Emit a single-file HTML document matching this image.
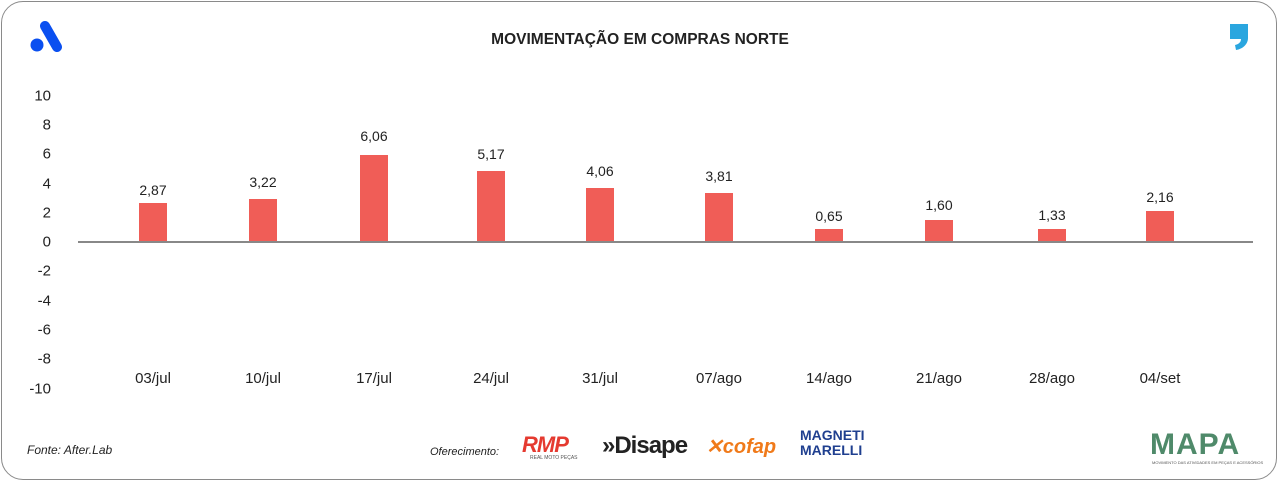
<!DOCTYPE html>
<html><head><meta charset="utf-8"><style>
body{margin:0;width:1280px;height:483px;background:#fff;font-family:"Liberation Sans",sans-serif;position:relative;overflow:hidden}
.frame{position:absolute;left:1px;top:1px;width:1276px;height:479px;border:1.5px solid #8a8a8a;border-radius:22px;box-sizing:border-box}
.t{position:absolute;color:#222;font-size:15px;white-space:nowrap}
.yl{position:absolute;right:1229px;font-size:15px;color:#222;transform:translateY(-50%)}
.bar{position:absolute;width:28px;background:#f05d57}
.v{position:absolute;width:80px;text-align:center;font-size:14px;color:#222}
.x{position:absolute;width:100px;text-align:center;font-size:15px;color:#222;top:370px}
</style></head><body>
<div class="frame"></div>
<svg style="position:absolute;left:28px;top:20px" width="36" height="34"><line x1="17" y1="6" x2="29" y2="27" stroke="#0a4ff0" stroke-width="10" stroke-linecap="round"/><circle cx="9" cy="25" r="6.5" fill="#0a4ff0"/></svg>
<svg style="position:absolute;left:1228px;top:22px" width="24" height="30"><path d="M2 2h18v14c0 6-5 11-12 12l-1-5c4-1 6-3 6-6H2z" fill="#2aa6df"/></svg>
<div class="t" style="left:0;width:1280px;text-align:center;top:31px;font-weight:bold;font-size:15.5px">MOVIMENTAÇÃO EM COMPRAS NORTE</div>
<div class="yl" style="top:96px">10</div><div class="yl" style="top:125px">8</div><div class="yl" style="top:154px">6</div><div class="yl" style="top:184px">4</div><div class="yl" style="top:213px">2</div><div class="yl" style="top:242px">0</div><div class="yl" style="top:271px">-2</div><div class="yl" style="top:301px">-4</div><div class="yl" style="top:330px">-6</div><div class="yl" style="top:359px">-8</div><div class="yl" style="top:389px">-10</div>
<div style="position:absolute;left:78px;top:241px;width:1175px;height:2px;background:#888"></div>
<div class="bar" style="left:139px;top:203px;height:38px"></div><div class="v" style="left:113px;top:182px">2,87</div><div class="x" style="left:103px">03/jul</div>
<div class="bar" style="left:249px;top:199px;height:42px"></div><div class="v" style="left:223px;top:174px">3,22</div><div class="x" style="left:213px">10/jul</div>
<div class="bar" style="left:360px;top:155px;height:86px"></div><div class="v" style="left:334px;top:128px">6,06</div><div class="x" style="left:324px">17/jul</div>
<div class="bar" style="left:477px;top:171px;height:70px"></div><div class="v" style="left:451px;top:146px">5,17</div><div class="x" style="left:441px">24/jul</div>
<div class="bar" style="left:586px;top:188px;height:53px"></div><div class="v" style="left:560px;top:163px">4,06</div><div class="x" style="left:550px">31/jul</div>
<div class="bar" style="left:705px;top:193px;height:48px"></div><div class="v" style="left:679px;top:168px">3,81</div><div class="x" style="left:669px">07/ago</div>
<div class="bar" style="left:815px;top:229px;height:12px"></div><div class="v" style="left:789px;top:208px">0,65</div><div class="x" style="left:779px">14/ago</div>
<div class="bar" style="left:925px;top:220px;height:21px"></div><div class="v" style="left:899px;top:197px">1,60</div><div class="x" style="left:889px">21/ago</div>
<div class="bar" style="left:1038px;top:229px;height:12px"></div><div class="v" style="left:1012px;top:207px">1,33</div><div class="x" style="left:1002px">28/ago</div>
<div class="bar" style="left:1146px;top:211px;height:30px"></div><div class="v" style="left:1120px;top:189px">2,16</div><div class="x" style="left:1110px">04/set</div>
<div class="t" style="left:27px;top:443px;font-size:12px;font-style:italic">Fonte: After.Lab</div>
<div class="t" style="left:430px;top:446px;font-size:11px;font-style:italic">Oferecimento:</div>
<div class="t" style="left:522px;top:432px;font-size:22px;font-weight:bold;color:#e53a30;font-style:italic;letter-spacing:-1px">RMP</div>
<div class="t" style="left:530px;top:455px;font-size:5px;color:#555">REAL MOTO PEÇAS</div>
<div class="t" style="left:602px;top:432px;font-size:24px;font-weight:bold;color:#222;letter-spacing:-1px">»Disape</div>
<div class="t" style="left:706px;top:434px;font-size:20px;font-weight:bold;font-style:italic;color:#f07a1a">✕cofap</div>
<div class="t" style="left:800px;top:428px;font-size:14px;font-weight:bold;color:#1f3f8f;line-height:15px">MAGNETI<br>MARELLI</div>
<div class="t" style="left:1150px;top:428px;font-size:30px;font-weight:bold;color:#4f8a6a;letter-spacing:1px">MAPA</div>
<div class="t" style="left:1152px;top:460px;font-size:4px;color:#555">MOVIMENTO DAS ATIVIDADES EM PEÇAS E ACESSÓRIOS</div>
</body></html>
